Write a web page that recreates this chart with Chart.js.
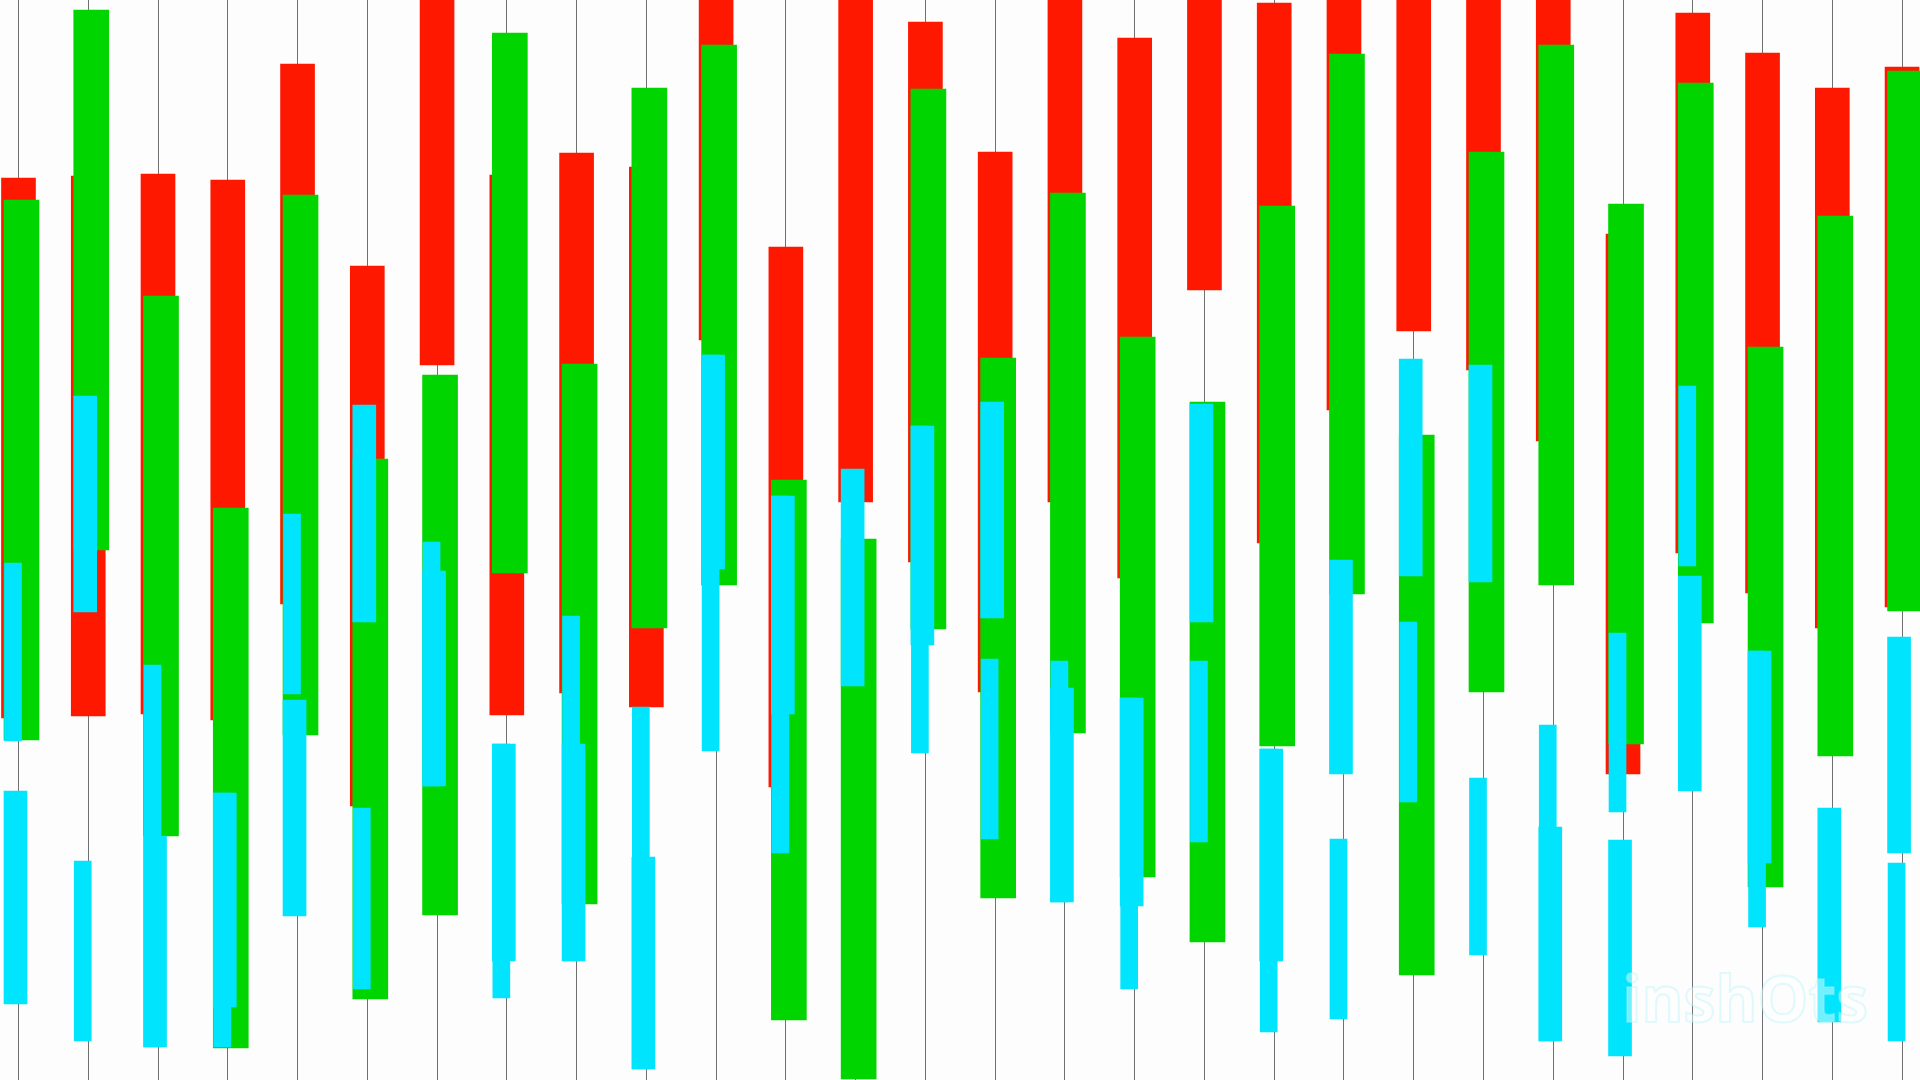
<!DOCTYPE html>
<html>
<head>
<meta charset="utf-8">
<title>Floating bars</title>
<script src="https://cdn.jsdelivr.net/npm/chart.js@4.4.1/dist/chart.umd.min.js"></script>
<style>
  html, body { margin: 0; padding: 0; background: #fdfdfd; overflow: hidden; }
  #wrap { width: 1920px; height: 1080px; }
</style>
</head>
<body>
<div id="wrap"><canvas id="chart" width="1920" height="1080"></canvas></div>
<script>
// 28 slots, each one has a red, a green and up to two cyan floating bars [low, high]
const slots = Array.from({ length: 28 }, (_, i) => i);

const redBars = [
  [36.2, 90.2], [36.4, 90.4], [36.6, 90.6], [36.0, 90.0], [47.6, 101.6], [27.4, 81.4], [71.5, 125.5],
  [36.5, 90.5], [38.7, 92.7], [37.3, 91.3], [74.0, 128.0], [29.3, 83.3], [57.8, 111.8], [51.8, 105.8],
  [38.8, 92.8], [57.8, 111.8], [50.2, 104.2], [79.0, 133.0], [53.7, 107.7], [67.0, 121.0], [74.9, 128.9],
  [71.0, 125.0], [63.9, 117.9], [30.6, 84.6], [52.7, 106.7], [48.7, 102.7], [45.2, 99.2], [47.3, 101.3]
];

const greenBars = [
  [34.0, 88.0], [53.0, 107.0], [24.4, 78.4], [3.2, 57.2], [34.5, 88.5], [8.1, 62.1], [16.5, 70.5],
  [50.7, 104.7], [17.6, 71.6], [45.2, 99.2], [49.5, 103.5], [6.0, 60.0], [0.1, 54.1], [45.1, 99.1],
  [18.2, 72.2], [34.7, 88.7], [20.3, 74.3], [13.8, 67.8], [33.4, 87.4], [48.6, 102.6], [10.5, 64.5],
  [38.8, 92.8], [49.5, 103.5], [33.6, 87.6], [45.7, 99.7], [19.3, 73.3], [32.4, 86.4], [46.9, 100.9]
];

const cyanNarrow = [
  [33.9, 51.7], [3.9, 21.9], [3.3, 41.5], [3.3, 28.7], [38.6, 56.6], [9.1, 27.2], [29.4, 53.8],
  [8.2, 33.6], [11.9, 46.4], [1.1, 37.3], [32.9, 72.5], [22.7, 58.4], null, [32.7, 65.4],
  [24.1, 42.1], [17.8, 41.9], [9.1, 38.2], [23.8, 41.9], [4.8, 33.1], [6.1, 24.1], [27.8, 45.8],
  [12.5, 30.2], [3.9, 35.5], [26.8, 44.7], [51.4, 69.4], [15.3, 42.9], null, [3.9, 21.7]
];

const cyanWide = [
  [7.6, 28.9], [46.8, 68.4], [3.3, 24.4], [7.3, 28.7], [16.4, 38.0], [45.8, 67.5], [29.4, 50.9],
  [11.9, 33.6], [11.9, 33.6], [1.1, 22.3], [51.1, 72.5], [36.6, 58.4], [39.4, 61.1], [43.5, 65.4],
  [46.2, 67.8], [17.8, 39.2], [17.4, 38.2], [45.8, 67.6], [11.9, 33.1], [30.6, 52.0], [50.4, 72.1],
  [49.8, 71.5], [3.9, 25.3], [2.4, 24.0], [28.9, 50.4], [21.7, 42.9], [5.8, 27.2], [22.7, 44.3]
];

const X_MIN = -0.265;
const X_MAX = 27.257;
const pxPerSlot = 1920 / (X_MAX - X_MIN);

// hidden copy of the x axis, moved sideways by a few pixels
function shiftedAxis(px) {
  const d = px / pxPerSlot;
  return {
    type: "linear",
    display: false,
    offset: false,
    grid: { offset: false },
    min: X_MIN - d,
    max: X_MAX - d,
  };
}

function toPoints(bars) {
  return slots.filter((s) => bars[s]).map((s) => ({ x: s, y: bars[s] }));
}

// faint watermark in the lower right corner
const watermark = {
  id: "watermark",
  afterDraw(chart) {
    const c = chart.ctx;
    c.save();
    c.font = "bold 64px 'Open Sans', sans-serif";
    c.textBaseline = "alphabetic";
    c.fillStyle = "rgba(255, 255, 255, 0.45)";
    c.strokeStyle = "rgba(170, 240, 250, 0.35)";
    c.lineWidth = 2;
    c.fillText("inshOts", 1622, 1022, 252);
    c.strokeText("inshOts", 1622, 1022, 252);
    c.restore();
  },
};

const ctx = document.getElementById("chart");

new Chart(ctx, {
  type: "bar",
  data: {
    datasets: [
      {
        label: "Cyan (narrow)",
        data: toPoints(cyanNarrow),
        xAxisID: "xCn",
        backgroundColor: "#00e4fd",
        barThickness: 17,
      },
      {
        label: "Cyan (wide)",
        data: toPoints(cyanWide),
        xAxisID: "xCw",
        backgroundColor: "#00e4fd",
        barThickness: 23,
      },
      {
        label: "Green",
        data: toPoints(greenBars),
        xAxisID: "xG",
        backgroundColor: "#00d500",
        barThickness: 35,
      },
      {
        label: "Red",
        data: toPoints(redBars),
        xAxisID: "x",
        backgroundColor: "#fe1800",
        barThickness: 34,
      },
    ],
  },
  options: {
    responsive: false,
    animation: false,
    grouped: false,
    layout: { padding: 0 },
    plugins: {
      legend: { display: false },
      tooltip: { enabled: false },
    },
    scales: {
      x: {
        type: "linear",
        offset: false,
        min: X_MIN,
        max: X_MAX,
        ticks: { display: false, stepSize: 1, includeBounds: false },
        grid: { color: "#707070", lineWidth: 1, drawTicks: false, offset: false },
        border: { display: false },
      },
      xG: shiftedAxis(3),
      xCn: shiftedAxis(-5.5),
      xCw: shiftedAxis(-3),
      y: {
        display: false,
        min: 0,
        max: 108,
      },
    },
  },
  plugins: [watermark],
});
</script>
</body>
</html>
